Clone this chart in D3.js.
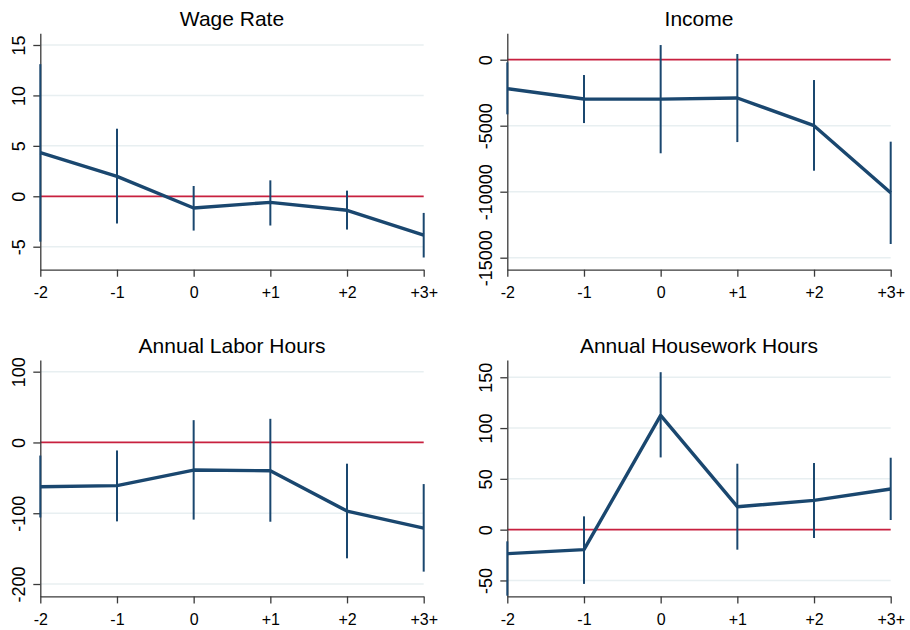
<!DOCTYPE html>
<html>
<head>
<meta charset="utf-8">
<script src="https://cdn.jsdelivr.net/npm/d3@7"></script>
<style>
  body { margin: 0; background: #fff; }
  svg { display: block; }
  text { font-family: "Liberation Sans", Arial, sans-serif; fill: #000; }
</style>
</head>
<body>
<svg id="chart" width="910" height="630"></svg>
<script>
// Event-time periods relative to the event
const periods = ["-2", "-1", "0", "+1", "+2", "+3+"];

// Wage rate: point estimates and 95% confidence bounds
const wageEst = [4.33, 1.98, -1.16, -0.6, -1.39, -3.86];
const wageLo  = [-4.5, -2.7, -3.4, -2.9, -3.3, -6.07];
const wageHi  = [13.1, 6.7, 1.02, 1.58, 0.56, -1.65];
const wageTicks = [-5, 0, 5, 10, 15];
const wageRange = [-7.28, 16.16];

// Income
const incomeEst = [-2200, -2980, -2990, -2900, -5000, -10080];
const incomeLo  = [-4140, -4800, -7090, -6240, -8410, -13960];
const incomeHi  = [-200, -1160, 1110, 430, -1540, -6210];
const incomeTicks = [-15000, -10000, -5000, 0];
const incomeRange = [-15909, 2000];

// Annual labor hours
const laborEst = [-62.5, -61, -39, -40, -97, -121];
const laborLo  = [-106, -111.5, -109, -112, -163.7, -182.5];
const laborHi  = [-18.5, -11.3, 31.5, 33.4, -30, -58.8];
const laborTicks = [-200, -100, 0, 100];
const laborRange = [-217.5, 116.5];

// Annual housework hours
const houseEst = [-23.6, -19.7, 112.4, 22.6, 28.8, 40];
const houseLo  = [-65, -53.4, 71.1, -19.7, -8.2, 9.5];
const houseHi  = [-11.5, 13.1, 155, 64.9, 65.6, 70.8];
const houseTicks = [-50, 0, 50, 100, 150];
const houseRange = [-65.7, 167];

const panels = [
  { title: "Wage Rate", est: wageEst, lo: wageLo, hi: wageHi, ticks: wageTicks, range: wageRange, left: 40.3, top: 33.3 },
  { title: "Income", est: incomeEst, lo: incomeLo, hi: incomeHi, ticks: incomeTicks, range: incomeRange, left: 507.3, top: 33.3 },
  { title: "Annual Labor Hours", est: laborEst, lo: laborLo, hi: laborHi, ticks: laborTicks, range: laborRange, left: 40.3, top: 360 },
  { title: "Annual Housework Hours", est: houseEst, lo: houseLo, hi: houseHi, ticks: houseTicks, range: houseRange, left: 507.3, top: 360 }
];

const plotW = 383.4;
const plotH = 236.4;

const navy = "#1a476f";
const zeroRed = "#c8203f";
const gridCol = "#e8eff1";
const axisCol = "#3a3a3a";

const svg = d3.select("#chart");

panels.forEach(p => {
  const g = svg.append("g").attr("transform", `translate(${p.left},${p.top})`);

  const x = d3.scalePoint().domain(periods).range([0, plotW]);
  const y = d3.scaleLinear().domain(p.range).range([plotH, 0]);

  // horizontal gridlines (zero is covered by the reference line)
  g.append("g").selectAll("line")
    .data(p.ticks.filter(t => t !== 0))
    .join("line")
    .attr("x1", 0).attr("x2", plotW)
    .attr("y1", d => y(d)).attr("y2", d => y(d))
    .attr("stroke", gridCol).attr("stroke-width", 1.5);

  // zero reference line
  g.append("line")
    .attr("x1", 0).attr("x2", plotW)
    .attr("y1", y(0)).attr("y2", y(0))
    .attr("stroke", zeroRed).attr("stroke-width", 1.8);

  // y axis with vertical labels
  const yAxis = g.append("g")
    .call(d3.axisLeft(y).tickValues(p.ticks).tickSize(7).tickSizeOuter(0)
      .tickFormat(d => String(d)));
  yAxis.select(".domain").attr("stroke", axisCol).attr("stroke-width", 1.3);
  yAxis.selectAll(".tick line").attr("stroke", axisCol).attr("stroke-width", 1.3);
  yAxis.selectAll(".tick text")
    .attr("x", null).attr("dy", null)
    .attr("text-anchor", "middle")
    .attr("transform", "translate(-15,0) rotate(-90)")
    .style("font-size", "18px")
    .attr("fill", "#000");

  // x axis
  const xAxis = g.append("g")
    .attr("transform", `translate(0,${plotH})`)
    .call(d3.axisBottom(x).tickSize(7).tickSizeOuter(0).tickPadding(10));
  xAxis.select(".domain").attr("stroke", axisCol).attr("stroke-width", 1.3);
  xAxis.selectAll(".tick line").attr("stroke", axisCol).attr("stroke-width", 1.3);
  xAxis.selectAll(".tick text").style("font-size", "16px").attr("fill", "#000");

  // confidence intervals
  g.append("g").selectAll("line")
    .data(periods.map((k, i) => ({ k, lo: p.lo[i], hi: p.hi[i] })))
    .join("line")
    .attr("x1", d => x(d.k)).attr("x2", d => x(d.k))
    .attr("y1", d => y(d.lo)).attr("y2", d => y(d.hi))
    .attr("stroke", navy).attr("stroke-width", 2);

  // point estimates
  const line = d3.line().x(d => x(d.k)).y(d => y(d.v));
  g.append("path")
    .datum(periods.map((k, i) => ({ k, v: p.est[i] })))
    .attr("d", line)
    .attr("fill", "none")
    .attr("stroke", navy)
    .attr("stroke-width", 3.4)
    .attr("stroke-linejoin", "round");

  // panel title
  g.append("text")
    .attr("x", plotW / 2).attr("y", -7.5)
    .attr("text-anchor", "middle")
    .style("font-size", "21px")
    .text(p.title);
});
</script>
</body>
</html>
